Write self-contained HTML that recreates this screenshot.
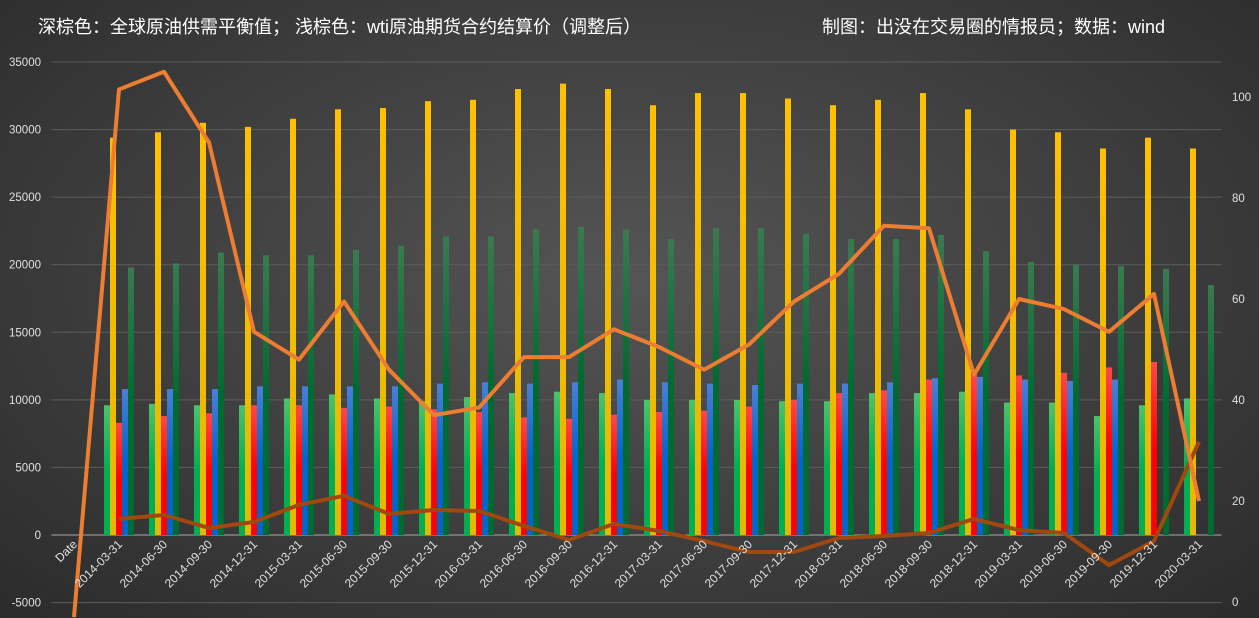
<!DOCTYPE html>
<html><head><meta charset="utf-8"><style>
body{margin:0;width:1259px;height:618px;overflow:hidden;background:radial-gradient(ellipse at 50% 45%,#555 0%,#3e3e3e 55%,#2b2b2b 100%);font-family:"Liberation Sans","Noto Sans CJK SC",sans-serif;}
svg{position:absolute;left:0;top:0}
</style></head><body>
<svg id="c" width="1259" height="618">
<defs>
<linearGradient id="gG" x1="0" y1="0" x2="0" y2="1"><stop offset="0" stop-color="#4cc36a"/><stop offset="0.5" stop-color="#00b050"/></linearGradient>
<linearGradient id="gY" x1="0" y1="0" x2="0" y2="1"><stop offset="0" stop-color="#ffc000"/><stop offset="1" stop-color="#e6b800"/></linearGradient>
<linearGradient id="gR" x1="0" y1="0" x2="0" y2="1"><stop offset="0" stop-color="#ff4848"/><stop offset="0.5" stop-color="#ff0000"/></linearGradient>
<linearGradient id="gB" x1="0" y1="0" x2="0" y2="1"><stop offset="0" stop-color="#4a7fd6"/><stop offset="0.5" stop-color="#0066cc"/></linearGradient>
<linearGradient id="gD" x1="0" y1="0" x2="0" y2="1"><stop offset="0" stop-color="#3a7a50"/><stop offset="0.5" stop-color="#006a30"/></linearGradient>
</defs>
<text x="38" y="33" fill="#fff" font-size="18">深棕色：全球原油供需平衡值；  浅棕色：wti原油期货合约结算价（调整后）</text>
<text x="822" y="33" fill="#fff" font-size="18">制图：出没在交易圈的情报员；数据：wind</text>
<g id="grid"></g><g id="bars"></g><g id="lines"></g><g id="axes"></g>
</svg>
<script>
const categories=["Date","2014-03-31","2014-06-30","2014-09-30","2014-12-31","2015-03-31","2015-06-30","2015-09-30","2015-12-31","2016-03-31","2016-06-30","2016-09-30","2016-12-31","2017-03-31","2017-06-30","2017-09-30","2017-12-31","2018-03-31","2018-06-30","2018-09-30","2018-12-31","2019-03-31","2019-06-30","2019-09-30","2019-12-31","2020-03-31"];
const greenVals=[null,9600,9700,9600,9600,10100,10400,10100,9900,10200,10500,10600,10500,10000,10000,10000,9900,9900,10500,10500,10600,9800,9800,8800,9600,10100];
const yellowVals=[null,29400,29800,30500,30200,30800,31500,31600,32100,32200,33000,33400,33000,31800,32700,32700,32300,31800,32200,32700,31500,30000,29800,28600,29400,28600];
const redVals=[null,8300,8800,9000,9600,9600,9400,9500,9300,9100,8700,8600,8900,9100,9200,9500,10000,10500,10700,11500,11900,11800,12000,12400,12800,null];
const blueVals=[null,10800,10800,10800,11000,11000,11000,11000,11200,11300,11200,11300,11500,11300,11200,11100,11200,11200,11300,11600,11700,11500,11400,11500,null,null];
const darkGreenVals=[null,19800,20100,20900,20700,20700,21100,21400,22100,22100,22600,22800,22600,21900,22700,22700,22300,21900,21900,22200,21000,20200,20000,19900,19700,18500];
const balanceVals=[null,1190,1480,520,960,2230,2900,1560,1850,1780,670,-370,820,300,-450,-1260,-1260,-220,-70,150,1190,370,150,-2230,-450,6900];
const wtiVals=[-3,101.5,105,91,53.5,48,59.5,46,37,38.5,48.5,48.5,54,50.5,46,51,59.5,65,74.5,74,45,60,58,53.5,61,20];
const leftTicks=[-5000,0,5000,10000,15000,20000,25000,30000,35000];
const rightTicks=[0,20,40,60,80,100];
const NS="http://www.w3.org/2000/svg";
const X0=51.5,X1=1221.5,step=(X1-X0)/categories.length;
const xc=i=>X0+step*(i+0.5);
const yL=v=>535-v*(473/35000);
const yR=v=>602-v*5.05;
function mk(t,a,p){const e=document.createElementNS(NS,t);for(const k in a)e.setAttribute(k,a[k]);p.appendChild(e);return e;}
const grid=document.getElementById('grid'),bars=document.getElementById('bars'),lines=document.getElementById('lines'),axes=document.getElementById('axes');
leftTicks.forEach(v=>{
  const l=mk('line',{x1:X0,x2:X1,y1:yL(v),y2:yL(v),stroke:v===0?'#aaa':'#5c5c5c','stroke-width':1},grid);
  
  
  const t=mk('text',{x:41,y:yL(v)+4,fill:'#e0e0e0','font-size':11.5,'text-anchor':'end'},axes);t.textContent=v;
  
  
});
rightTicks.forEach(v=>{
  const t=mk('text',{x:1232,y:yR(v)+4,fill:'#e0e0e0','font-size':11.5},axes);t.textContent=v;
  
  
});
const series=[[greenVals,'url(#gG)'],[yellowVals,'url(#gY)'],[redVals,'url(#gR)'],[blueVals,'url(#gB)'],[darkGreenVals,'url(#gD)']];
const bw=6;
categories.forEach((c,i)=>{
  series.forEach((s,j)=>{
    const v=s[0][i];if(v==null)return;
    const x=xc(i)-15+j*bw;
    const r=mk('rect',{x:x,y:yL(v),width:bw,height:yL(0)-yL(v),fill:s[1]},bars);
    
    
  });
  const tx=xc(i)+4,ty=545;
  const t=mk('text',{x:tx,y:ty,fill:'#e0e0e0','font-size':12,'text-anchor':'end',transform:`rotate(-45 ${tx} ${ty})`},axes);t.textContent=c;
  
  
});
let pb=[];balanceVals.forEach((v,i)=>{if(v!=null)pb.push(xc(i)+','+yL(v));});
const bl=mk('polyline',{points:pb.join(' '),fill:'none',stroke:'#a0480e','stroke-width':4,'stroke-linejoin':'round'},lines);


let pw=wtiVals.map((v,i)=>xc(i)+','+yR(v));
const wl=mk('polyline',{points:pw.join(' '),fill:'none',stroke:'#ed7d31','stroke-width':4,'stroke-linejoin':'round'},lines);


</script>
</body></html>
